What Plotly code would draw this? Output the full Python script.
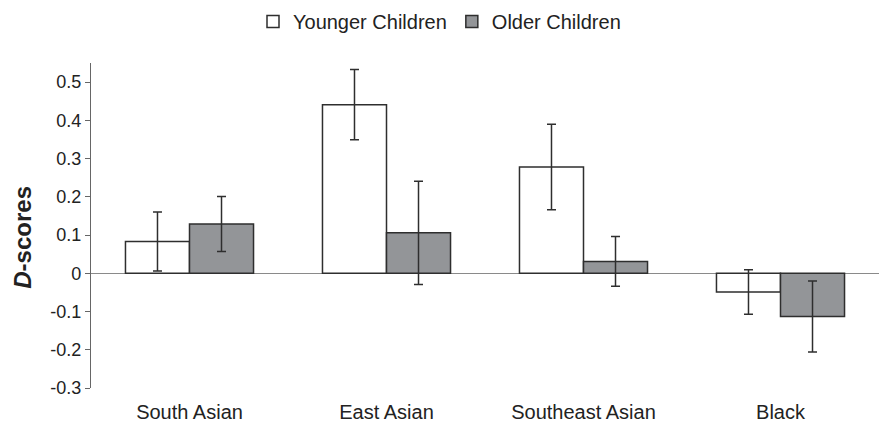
import plotly.graph_objects as go

categories = ["South Asian", "East Asian", "Southeast Asian", "Black"]
younger = [0.083, 0.441, 0.278, -0.049]
younger_err = [0.077, 0.092, 0.112, 0.058]
older = [0.129, 0.106, 0.031, -0.113]
older_err = [0.072, 0.135, 0.065, 0.093]
y_ticks = [-0.3, -0.2, -0.1, 0, 0.1, 0.2, 0.3, 0.4, 0.5]
y_tick_text = ["-0.3", "-0.2", "-0.1", "0", "0.1", "0.2", "0.3", "0.4", "0.5"]

FONT = "Liberation Sans, Arial, sans-serif"
EDGE = "#2e2e2e"

fig = go.Figure()
fig.add_trace(go.Bar(
    name="Younger Children", x=categories, y=younger,
    marker=dict(color="white", line=dict(color=EDGE, width=1.5)),
    error_y=dict(type="data", array=younger_err, color=EDGE, thickness=1.5, width=4.5),
))
fig.add_trace(go.Bar(
    name="Older Children", x=categories, y=older,
    marker=dict(color="#939598", line=dict(color=EDGE, width=1.5)),
    error_y=dict(type="data", array=older_err, color=EDGE, thickness=1.5, width=4.5),
))

fig.update_layout(
    width=879, height=422,
    margin=dict(l=91, r=0, t=63, b=34),
    paper_bgcolor="white", plot_bgcolor="white",
    barmode="group", bargap=0.35, bargroupgap=0,
    font=dict(family=FONT, color="#222222"),
    showlegend=True,
    legend=dict(
        orientation="h", xref="container", yref="container",
        x=0.5, xanchor="center", y=0.995, yanchor="top",
        font=dict(size=20, color="#222222"),
        itemclick=False, traceorder="normal",
    ),
    xaxis=dict(
        showline=False, showgrid=False, zeroline=False, ticks="",
        tickfont=dict(size=20), automargin=False, ticklabelstandoff=10,
    ),
    yaxis=dict(
        range=[-0.3, 0.55], tickvals=y_ticks, ticktext=y_tick_text,
        showline=True, linecolor="#666666", linewidth=1.2,
        ticks="outside", ticklen=5, tickcolor="#666666", tickwidth=1.2,
        showgrid=False, zeroline=True, zerolinecolor="#8a8a8a", zerolinewidth=1.2,
        tickfont=dict(size=18), automargin=False,
    ),
    annotations=[dict(
        text="<b><i>D</i>-scores</b>", textangle=-90,
        xref="paper", yref="y", x=(23 - 91) / 788, y=0.093,
        xanchor="center", yanchor="middle", showarrow=False,
        font=dict(size=24, color="#222222"),
    )],
)

fig.write_html(
    "out.html",
    config={"displayModeBar": False},
    post_script="document.body.style.margin='0';",
)
